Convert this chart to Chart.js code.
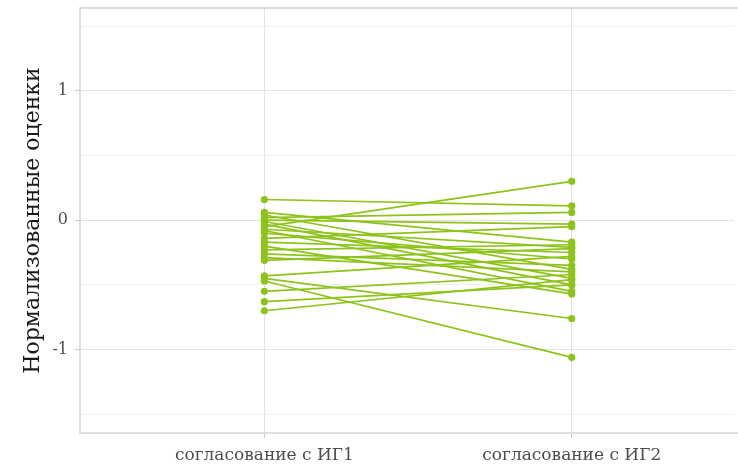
<!DOCTYPE html>
<html lang="ru">
<head>
    <meta charset="UTF-8">
    <title>Нормализованные оценки</title>
    <script src="https://cdn.jsdelivr.net/npm/chart.js"></script>
    <style>
        html, body { margin: 0; padding: 0; background: #fff; overflow: hidden; }
        #wrap { width: 738px; height: 468px; }
    </style>
</head>
<body>
    <div id="wrap">
        <canvas id="pairsChart" width="738" height="468"></canvas>
    </div>
<script>
// categories on the x axis
const categories = ['согласование с ИГ1', 'согласование с ИГ2'];

// normalised scores, one pair per rater (ИГ1 -> ИГ2)
const scoresIG1 = [0.16, 0.06, 0.04, 0.02, 0.00, -0.01, -0.03, -0.05, -0.07, -0.08, -0.10, -0.14,
                   -0.17, -0.20, -0.23, -0.26, -0.29, -0.31, -0.43, -0.45, -0.47, -0.55, -0.63, -0.70];
const scoresIG2 = [0.11, -0.17, -0.38, 0.06, -0.03, -0.45, -0.50, 0.30, -0.21, -0.55, -0.30, -0.05,
                   -0.25, -0.57, -0.19, -0.35, -0.40, -0.22, -0.28, -0.76, -1.06, -0.42, -0.50, -0.46];

// y axis ticks (labels only on whole numbers)
const yTicks = [-1.5, -1, -0.5, 0, 0.5, 1, 1.5];
const yLabels = ['', '-1', '', '0', '', '1', ''];

const green = '#8ec31c';
const serif = "'DejaVu Serif', 'Liberation Serif', serif";

const datasets = scoresIG1.map(function(v, i) {
    return {
        data: [{ x: 1, y: v }, { x: 2, y: scoresIG2[i] }],
        showLine: true,
        borderColor: green,
        backgroundColor: green,
        borderWidth: 1.7,
        pointRadius: 3.6,
        pointBorderWidth: 0,
        clip: false
    };
});

// panel frame: left, top and bottom (right side falls outside the picture)
const panelBorder = {
    id: 'panelBorder',
    afterDraw(chart) {
        const a = chart.chartArea;
        const ctx = chart.ctx;
        ctx.save();
        ctx.strokeStyle = '#d3d3d3';
        ctx.lineWidth = 1.5;
        ctx.beginPath();
        ctx.moveTo(chart.width + 2, a.top);
        ctx.lineTo(a.left, a.top);
        ctx.lineTo(a.left, a.bottom);
        ctx.lineTo(chart.width + 2, a.bottom);
        ctx.stroke();
        ctx.restore();
    }
};

new Chart(document.getElementById('pairsChart'), {
    type: 'scatter',
    data: { datasets: datasets },
    options: {
        responsive: false,
        animation: false,
        layout: { padding: { top: 8, right: 0, left: 0, bottom: 0 } },
        plugins: { legend: { display: false }, tooltip: { enabled: false } },
        scales: {
            x: {
                type: 'linear',
                min: 0.4,
                max: 2.528,
                afterBuildTicks: function(scale) {
                    scale.ticks = [1, 2].map(v => ({ value: v }));
                },
                afterFit: function(scale) {
                    scale.height = 35;
                    scale.paddingLeft = 0;
                    scale.paddingRight = 0;
                },
                ticks: {
                    autoSkip: false,
                    maxRotation: 0,
                    padding: 7,
                    color: '#4d4d4d',
                    font: { family: serif, size: 17 },
                    callback: function(v) { return categories[v - 1]; }
                },
                grid: {
                    color: function(c) { return (c.tick && (c.tick.value === 1 || c.tick.value === 2)) ? '#e3e3e3' : 'rgba(0,0,0,0)'; },
                    lineWidth: 1,
                    tickLength: 5,
                    tickColor: '#c8c8c8'
                },
                border: { display: false }
            },
            y: {
                min: -1.645,
                max: 1.64,
                afterBuildTicks: function(scale) {
                    scale.ticks = yTicks.map(v => ({ value: v }));
                },
                afterFit: function(scale) {
                    scale.width = 80;
                    scale.paddingTop = 0;
                    scale.paddingBottom = 0;
                },
                ticks: {
                    autoSkip: false,
                    padding: 7,
                    color: '#4d4d4d',
                    font: { family: serif, size: 16 },
                    callback: function(v) { return yLabels[yTicks.indexOf(v)]; }
                },
                grid: {
                    color: function(c) { return Number.isInteger(c.tick.value) ? '#e3e3e3' : '#f0f0f0'; },
                    lineWidth: 1,
                    tickLength: 5,
                    tickColor: function(c) { return Number.isInteger(c.tick.value) ? '#c8c8c8' : 'rgba(0,0,0,0)'; }
                },
                border: { display: false },
                title: {
                    display: true,
                    text: 'Нормализованные оценки',
                    color: '#1a1a1a',
                    font: { family: serif, size: 22 },
                    padding: { top: 20, bottom: 0 }
                }
            }
        }
    },
    plugins: [panelBorder]
});
</script>
</body>
</html>
